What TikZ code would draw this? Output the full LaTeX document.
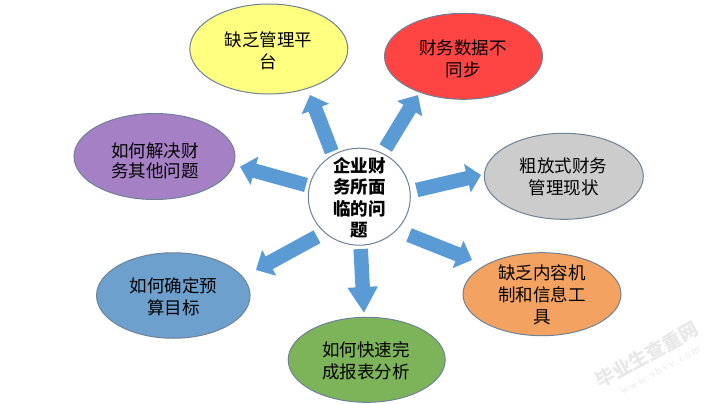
\documentclass[tikz,border=0pt]{standalone}
\usepackage{fontspec}
\setmainfont{Noto Sans CJK SC}
\newfontfamily\wmfont[LetterSpace=18]{Liberation Serif}
\usetikzlibrary{arrows.meta,shapes.geometric}
\definecolor{arrowblue}{HTML}{5B9BD5}
\definecolor{edgegray}{HTML}{6E8296}
\tikzset{
  blob/.style={ellipse,draw=edgegray,line width=1pt,inner sep=0pt},
  txt/.style={align=center,inner sep=0pt,font=\fontsize{17.5}{22}\selectfont,text=black},
  block/.style={line width=14.5pt,draw=arrowblue,-{Triangle[length=#1,width=28.5pt]}},
  wm/.style={text=black!9,rotate=29,inner sep=0pt}
}
\begin{document}
\begin{tikzpicture}[x=1pt,y=-1pt]
\useasboundingbox (0,0) rectangle (720,404);
\node[blob,minimum width=158pt,minimum height=90pt,fill={rgb,255:red,255;green,255;blue,128}] (ya) at (268.8,49) {};
\node[blob,minimum width=158pt,minimum height=86pt,fill={rgb,255:red,255;green,68;blue,68}] (re) at (463.5,56.3) {};
\node[blob,minimum width=159pt,minimum height=86pt,fill={rgb,255:red,204;green,204;blue,204}] (gr) at (563.8,176.3) {};
\node[blob,minimum width=158pt,minimum height=83pt,fill={rgb,255:red,244;green,162;blue,97}] (or) at (542,294.2) {};
\node[blob,minimum width=157pt,minimum height=85pt,fill={rgb,255:red,125;green,180;blue,90}] (ge) at (366.7,359.8) {};
\node[blob,minimum width=153.5pt,minimum height=85.5pt,fill={rgb,255:red,110;green,160;blue,205}] (bl) at (173.3,295.5) {};
\node[blob,minimum width=161pt,minimum height=86pt,fill={rgb,255:red,165;green,128;blue,196}] (pu) at (154.5,156.5) {};
\node[blob,fill=white,minimum width=102pt,minimum height=97pt] (c) at (359.3,196.7) {};
\node[txt] (yat) at (268.5,51) {缺乏管理平\\台};
\node[txt] (ret) at (463,58.8) {财务数据不\\同步};
\node[txt] (grt) at (563.5,177.3) {粗放式财务\\管理现状};
\node[txt] (ort) at (542,295) {缺乏内容机\\制和信息工\\具};
\node[txt] (get) at (365.8,361.3) {如何快速完\\成报表分析};
\node[txt] (blt) at (173.5,297) {如何确定预\\算目标};
\node[txt,font=\fontsize{17.5}{20}\selectfont] (put) at (155,161) {如何解决财\\务其他问题};
\node[txt,font=\fontsize{17.5}{21.5}\selectfont\bfseries] (ct) at (359.5,198) {企业财\\务所面\\临的问\\题};
\coordinate (a1s) at (331.7,151.7); \coordinate (a1e) at (310,95);
\coordinate (a2s) at (385.7,148);   \coordinate (a2e) at (418,95);
\coordinate (a3s) at (416.7,190);   \coordinate (a3e) at (481,175);
\coordinate (a4s) at (409,235);     \coordinate (a4e) at (472,260);
\coordinate (a5s) at (360.7,249);   \coordinate (a5e) at (364,313);
\coordinate (a6s) at (317,236.7);   \coordinate (a6e) at (256,270);
\coordinate (a7s) at (306,185);     \coordinate (a7e) at (240,166.7);
\foreach \i/\h in {1/15pt,2/16pt,3/14pt,4/15pt,5/26pt,6/15pt,7/15pt} \draw[block=\h] (a\i s) -- (a\i e);
\node[wm,font=\fontsize{19}{19}\selectfont\bfseries] (w1) at (647,355) {毕业生查重网};
\node[wm,font=\wmfont\fontsize{11}{11}\selectfont] (w2) at (660,370) {www.sbvv.com};
\end{tikzpicture}
\end{document}
